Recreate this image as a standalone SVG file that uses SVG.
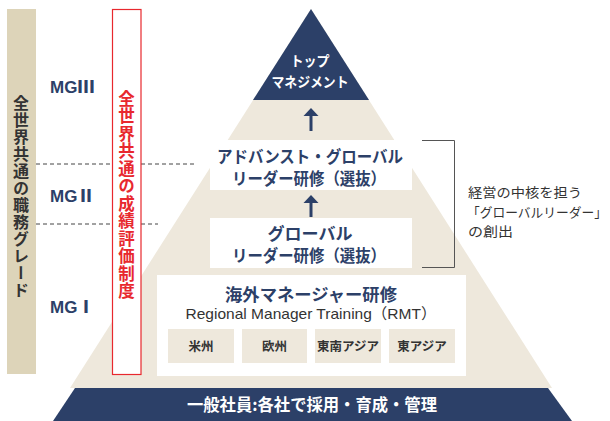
<svg xmlns="http://www.w3.org/2000/svg" width="610" height="421" viewBox="0 0 610 421">
<defs>
<style>
.jp{font-family:"Noto Sans CJK JP","Noto Sans",sans-serif}
.navy{fill:#2c4068}
.beige{fill:#eee8dc}
.wbox{fill:#ffffff}
.t-navy{font-family:"Noto Sans CJK JP",sans-serif;font-weight:700;fill:#2c4068;font-size:16.5px;text-anchor:middle}
.t-white{font-family:"Noto Sans CJK JP",sans-serif;font-weight:700;fill:#ffffff;text-anchor:middle}
.t-sub{font-family:"Noto Sans CJK JP",sans-serif;font-weight:700;fill:#333;font-size:12.5px;text-anchor:middle}
.mg{font-family:"Liberation Sans","Noto Sans CJK JP",sans-serif;font-weight:700;fill:#2c4068;font-size:17px}
.rn{font-family:"Noto Sans CJK JP",sans-serif;font-weight:900}
.dash{stroke:#444;stroke-width:1;stroke-dasharray:4 3;fill:none}
.vert{writing-mode:vertical-rl;text-anchor:middle;font-family:"Noto Sans CJK JP",sans-serif;font-weight:700}
.note{font-family:"Noto Sans CJK JP",sans-serif;font-size:13px;fill:#333}
</style>
</defs>
<rect width="610" height="421" fill="#ffffff"/>

<!-- dashed grade lines -->
<g id="grade-lines">
<line class="dash" x1="36" y1="164" x2="195" y2="164"/>
<line class="dash" x1="36" y1="224" x2="158" y2="224"/>
</g>

<!-- left grade bar -->
<g id="grade-bar">
<rect x="7" y="9" width="29" height="365" fill="#ddd4b9"/>
<text class="vert" x="21" y="197" font-size="16" fill="#333" letter-spacing="1">全世界共通の職務グレード</text>
</g>

<!-- grade labels -->
<g id="mg3"><text class="mg" x="50" y="93">MG<tspan class="rn">Ⅲ</tspan></text></g>
<g id="mg2"><text class="mg" x="50" y="202">MG<tspan class="rn">Ⅱ</tspan></text></g>
<g id="mg1"><text class="mg" x="50" y="313">MG<tspan class="rn">Ⅰ</tspan></text></g>

<!-- pyramid background -->
<g id="pyramid">
<polygon class="beige" points="311,9 70,388 552,388"/>
</g>

<!-- red evaluation system -->
<g id="evaluation">
<rect x="112.5" y="9.5" width="28.5" height="365" fill="#ffffff" stroke="#e8282e" stroke-width="1.2"/>
<text class="vert" x="126.5" y="195" font-size="16.5" fill="#e8282e" letter-spacing="1">全世界共通の成績評価制度</text>
</g>

<!-- top management -->
<g id="top">
<polygon class="navy" points="311,9 253,100 369,100"/>
<text class="t-white" x="310" y="66" font-size="14" textLength="39" lengthAdjust="spacingAndGlyphs">トップ</text>
<text class="t-white" x="310" y="87" font-size="14" textLength="77" lengthAdjust="spacingAndGlyphs">マネジメント</text>
</g>

<!-- base -->
<g id="base">
<polygon class="navy" points="75,388 548,388 572,421 53,421"/>
<text class="t-white" x="312" y="411" font-size="16.5" textLength="250" lengthAdjust="spacingAndGlyphs">一般社員:各社で採用・育成・管理</text>
</g>

<!-- advanced global leader -->
<g id="advanced">
<rect class="wbox" x="210" y="140" width="202" height="50"/>
<text class="t-navy" x="310" y="163" textLength="186" lengthAdjust="spacingAndGlyphs">アドバンスト・グローバル</text>
<text class="t-navy" x="309" y="185" textLength="154" lengthAdjust="spacingAndGlyphs">リーダー研修（選抜）</text>
</g>

<!-- global leader -->
<g id="global">
<rect class="wbox" x="210" y="218" width="202" height="50"/>
<text class="t-navy" x="310" y="240" textLength="85" lengthAdjust="spacingAndGlyphs">グローバル</text>
<text class="t-navy" x="309" y="262" textLength="154" lengthAdjust="spacingAndGlyphs">リーダー研修（選抜）</text>
</g>

<!-- RMT -->
<g id="rmt">
<rect class="wbox" x="157" y="275" width="309" height="101"/>
<text class="t-navy" x="311" y="301" font-size="17" textLength="172" lengthAdjust="spacingAndGlyphs">海外マネージャー研修</text>
<text x="311" y="319" font-family="'Liberation Sans','Noto Sans CJK JP',sans-serif" font-size="15" fill="#333" text-anchor="middle" textLength="251" lengthAdjust="spacingAndGlyphs">Regional Manager Training（RMT）</text>
</g>
<g id="americas"><rect class="beige" x="168" y="329" width="66" height="34"/><text class="t-sub" x="201" y="351">米州</text></g>
<g id="europe"><rect class="beige" x="242" y="329" width="65" height="34"/><text class="t-sub" x="274.5" y="351">欧州</text></g>
<g id="sea"><rect class="beige" x="315" y="329" width="66" height="34"/><text class="t-sub" x="348" y="351">東南アジア</text></g>
<g id="ea"><rect class="beige" x="389" y="329" width="66" height="34"/><text class="t-sub" x="422" y="351">東アジア</text></g>

<!-- connectors -->
<g id="connectors">
<polygon class="navy" points="311,108 303.5,116 309.5,116 309.5,131 312.5,131 312.5,116 318.5,116"/>
<polygon class="navy" points="311,195 303.5,203 309.5,203 309.5,217 312.5,217 312.5,203 318.5,203"/>
<polyline points="422,140.5 454.5,140.5 454.5,267.5 422,267.5" fill="none" stroke="#555" stroke-width="1"/>
</g>

<!-- note -->
<g id="note">
<text class="note" x="468" y="197" font-size="14" textLength="114" lengthAdjust="spacingAndGlyphs">経営の中核を担う</text>
<text class="note" x="467" y="217" textLength="140" lengthAdjust="spacingAndGlyphs">「グローバルリーダー」</text>
<text class="note" x="468" y="236" font-size="14" textLength="45" lengthAdjust="spacingAndGlyphs">の創出</text>
</g>
</svg>
